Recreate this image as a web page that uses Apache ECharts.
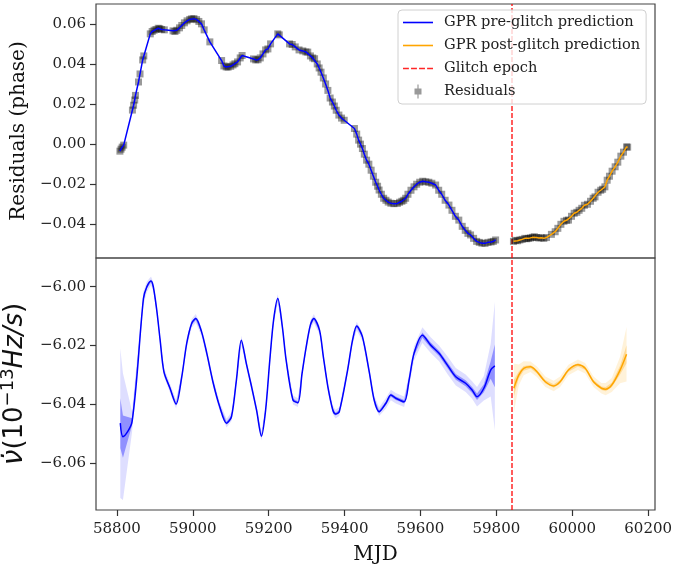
<!DOCTYPE html>
<html>
<head>
<meta charset="utf-8">
<script src="https://cdn.jsdelivr.net/npm/echarts@6/dist/echarts.min.js"></script>
<style>
  html, body { margin: 0; padding: 0; background: #fff; }
  #chart { width: 674px; height: 569px; }
</style>
</head>
<body>
<div id="chart"></div>
<script>
  // residuals (phase) before / after the glitch
  var preMjd = [58808, 58811, 58814, 58818, 58841, 58844, 58847, 58849, 58857, 58861, 58868, 58871, 58888, 58893, 58898,
    58903, 58909, 58913, 58918, 58925, 58948, 58953, 58958, 58965, 58971, 58978, 58985, 58992, 58997, 59003, 59010,
    59016, 59023, 59030, 59045, 59076, 59082, 59088, 59093, 59100, 59106, 59111, 59118, 59125, 59130, 59160, 59166,
    59172, 59178, 59185, 59192, 59198, 59205, 59224, 59228, 59255, 59262, 59270, 59280, 59290, 59298, 59303, 59310,
    59316, 59321, 59328, 59333, 59338, 59344, 59350, 59356, 59362, 59368, 59373, 59378, 59385, 59392, 59399, 59426,
    59432, 59437, 59442, 59447, 59452, 59458, 59464, 59470, 59476, 59482, 59487, 59491, 59497, 59503, 59509, 59515,
    59522, 59530, 59539, 59545, 59551, 59556, 59561, 59567, 59575, 59583, 59590, 59598, 59606, 59614, 59622, 59630,
    59640, 59648, 59656, 59665, 59675, 59683, 59692, 59701, 59710, 59718, 59725, 59732, 59740, 59748, 59755, 59762,
    59770, 59778, 59786, 59792, 59798]
  var preRes = [-0.0035, -0.0025, -0.0015, -0.0005, 0.017, 0.0194, 0.022, 0.0243, 0.031, 0.035, 0.042, 0.044, 0.055, 0.0562, 0.0568,
    0.0572, 0.0578, 0.0576, 0.0572, 0.057, 0.0565, 0.0562, 0.0568, 0.058, 0.0592, 0.0605, 0.0615, 0.0622, 0.0625, 0.0626, 0.0621,
    0.0612, 0.060, 0.057, 0.051, 0.0417, 0.039, 0.0385, 0.0384, 0.0388, 0.0395, 0.0401, 0.041, 0.043, 0.0442, 0.0425, 0.042,
    0.0421, 0.043, 0.045, 0.047, 0.0475, 0.050, 0.055, 0.0545, 0.050, 0.0497, 0.0485, 0.047, 0.0465, 0.046, 0.0459, 0.044,
    0.043, 0.0426, 0.040, 0.038, 0.0359, 0.033, 0.030, 0.0268, 0.023, 0.021, 0.019, 0.0169, 0.0145, 0.013, 0.0119, 0.0078,
    0.005, 0.002, 0.0, -0.0022, -0.005, -0.008, -0.010, -0.013, -0.016, -0.019, -0.021, -0.0229, -0.025, -0.027, -0.028, -0.0289,
    -0.0295, -0.0297, -0.0296, -0.029, -0.0285, -0.028, -0.027, -0.025, -0.023, -0.0213, -0.020, -0.019, -0.0185, -0.0188, -0.019, -0.0195,
    -0.0204, -0.023, -0.025, -0.028, -0.0304, -0.033, -0.036, -0.0379, -0.041, -0.043, -0.0445, -0.0453, -0.047, -0.0485, -0.049, -0.0494,
    -0.0495, -0.049, -0.0488, -0.0485, -0.0478]

  var postMjd = [59845, 59850, 59856, 59862, 59868, 59875, 59880, 59885, 59890, 59895, 59900, 59906, 59912, 59918, 59925,
    59932, 59945, 59955, 59962, 59970, 59978, 59985, 59990, 59998, 60005, 60012, 60018, 60025, 60032, 60040, 60048,
    60055, 60060, 60068, 60075, 60080, 60086, 60092, 60098, 60105, 60113, 60120, 60128, 60135, 60143, 60146]
  var postRes = [-0.0485, -0.048, -0.0482, -0.0478, -0.0475, -0.047, -0.0472, -0.047, -0.0468, -0.0465, -0.0462, -0.0466, -0.0468, -0.0467, -0.047,
    -0.0466, -0.045, -0.0437, -0.042, -0.040, -0.0385, -0.038, -0.0379, -0.036, -0.0345, -0.034, -0.033, -0.032, -0.0305, -0.030, -0.0285,
    -0.027, -0.0263, -0.024, -0.023, -0.0225, -0.0213, -0.018, -0.016, -0.0135, -0.0113, -0.009, -0.006, -0.004, -0.0014, -0.0015]

  // spin-down rate nu-dot (1e-13 Hz/s) and its 1-sigma
  var nuPreMjd = [58809, 58816, 58840, 58870, 58879, 58890, 58896, 58905, 58914, 58924, 58940, 58956, 58971, 58984, 58997,
    59008, 59023, 59037, 59054, 59071, 59089, 59102, 59115, 59128, 59141, 59155, 59168, 59181, 59192, 59203,
    59213, 59224, 59236, 59246, 59264, 59277, 59288, 59299, 59310, 59319, 59334, 59344, 59356, 59369, 59376,
    59386, 59408, 59421, 59432, 59447, 59465, 59478, 59491, 59509, 59522, 59535, 59557, 59570, 59583, 59605,
    59627, 59649, 59671, 59693, 59719, 59736, 59749, 59767, 59785, 59796]
  var nuPre = [-6.0465, -6.0511, -6.046, -6.004, -6.000, -5.998, -6.000, -6.0079, -6.0182, -6.029, -6.0346, -6.040, -6.0307, -6.0193, -6.0125,
    -6.0108, -6.0153, -6.0227, -6.0329, -6.0409, -6.0465, -6.0443, -6.0318, -6.0182, -6.0261, -6.0341, -6.042, -6.0509, -6.042, -6.025,
    -6.0113, -6.004, -6.0136, -6.025, -6.0386, -6.0395, -6.0295, -6.0204, -6.013, -6.0108, -6.0148, -6.0238, -6.0341, -6.042, -6.0434,
    -6.0426, -6.0284, -6.0182, -6.0134, -6.017, -6.029, -6.0386, -6.0426, -6.0397, -6.0369, -6.038, -6.0392, -6.0318, -6.0227, -6.0165,
    -6.0199, -6.0227, -6.0267, -6.0307, -6.0329, -6.0352, -6.0375, -6.0346, -6.0284, -6.027]
  var nuPreSig = [0.0085, 0.0072, 0.0012, 0.0008, 0.0006, 0.0005, 0.0005, 0.0005, 0.0005, 0.0005, 0.0005, 0.0005, 0.0005, 0.0005, 0.0005,
    0.0005, 0.0005, 0.0005, 0.0005, 0.0005, 0.0005, 0.0005, 0.0005, 0.0005, 0.0005, 0.0005, 0.0005, 0.0005, 0.0005, 0.0005,
    0.0005, 0.0005, 0.0005, 0.0005, 0.0005, 0.0005, 0.0005, 0.0005, 0.0005, 0.0005, 0.0005, 0.0005, 0.0005, 0.0005, 0.0005,
    0.0005, 0.0005, 0.0005, 0.0005, 0.0005, 0.0005, 0.0005, 0.0005, 0.0006, 0.0006, 0.0006, 0.0006, 0.0007, 0.0008, 0.0009,
    0.0009, 0.0009, 0.001, 0.001, 0.001, 0.001, 0.0011, 0.0014, 0.003, 0.0073]

  var nuPostMjd = [59846, 59859, 59872, 59890, 59907, 59929, 59951, 59968, 59990, 60015, 60034, 60056, 60077, 60088, 60104, 60126, 60143]
  var nuPost = [-6.0346, -6.0301, -6.0278, -6.0273, -6.029, -6.0324, -6.0338, -6.0324, -6.0284, -6.0266, -6.0278, -6.0324, -6.0346, -6.0349, -6.0335, -6.0284, -6.023]
  var nuPostSig = [0.0028, 0.0012, 0.0008, 0.0006, 0.0006, 0.0006, 0.0006, 0.0006, 0.0006, 0.0006, 0.0006, 0.0006, 0.0006, 0.0007, 0.0008, 0.0015, 0.0031]

  var glitchMjd = 59840

  var xTicks = [58800, 59000, 59200, 59400, 59600, 59800, 60000, 60200]
  var resTicks = [-0.04, -0.02, 0.00, 0.02, 0.04, 0.06]
  var nuTicks = [-6.06, -6.04, -6.02, -6.00]

  var serif = 'DejaVu Serif'
  var legendNames = ['GPR pre-glitch prediction', 'GPR post-glitch prediction', 'Glitch epoch', 'Residuals']

  var RED = 'rgba(255,0,0,0.85)'
  var DOT = 'rgba(0,0,0,0.5)'

  function pairs(xs, ys) {
    return xs.map(function(x, i) { return [x, ys[i]] })
  }

  function fmt(v) {
    var s = Math.abs(v).toFixed(2)
    return (v < -1e-9 ? '\u2212' : '') + s
  }

  // filled confidence band (mid +- k*sig) drawn as one polygon
  function band(xs, mid, sig, k, color) {
    return {
      type: 'custom',
      xAxisIndex: 1,
      yAxisIndex: 1,
      silent: true,
      z: 1,
      data: pairs(xs, mid),
      encode: { x: 0, y: 1 },
      renderItem: function(params, api) {
        if (params.dataIndex !== 0) return
        var pts = []
        var i
        for (i = 0; i < xs.length; i++) pts.push(api.coord([xs[i], mid[i] + k * sig[i]]))
        for (i = xs.length - 1; i >= 0; i--) pts.push(api.coord([xs[i], mid[i] - k * sig[i]]))
        return { type: 'polygon', shape: { points: pts }, style: { fill: color } }
      }
    }
  }

  function glitch(idx) {
    return {
      name: 'Glitch epoch',
      type: 'line',
      xAxisIndex: idx,
      yAxisIndex: idx,
      data: [],
      symbol: 'none',
      itemStyle: { color: RED },
      lineStyle: { color: RED, width: 1.5, type: [5, 2] },
      markLine: {
        silent: true,
        z: 2,
        symbol: ['none', 'none'],
        label: { show: false },
        lineStyle: { color: RED, width: 1.5, type: [5, 2] },
        data: [{ xAxis: glitchMjd }]
      },
      z: 2
    }
  }

  var xBase = {
    type: 'value',
    min: 58745,
    max: 60218,
    splitLine: { show: false },
    axisLine: { show: false }
  }

  var lineIcon = 'path://M0,0 H30 V1.6 H0 Z'
  var dashIcon = 'path://M0,0 H5.5 V1.6 H0 Z M7.5,0 H13 V1.6 H7.5 Z M15,0 H20.5 V1.6 H15 Z M22.5,0 H28 V1.6 H22.5 Z'
  var dotIcon = 'path://M6.4,0 H7.6 V4 H10.5 V10 H7.6 V14 H6.4 V10 H3.5 V4 H6.4 Z'

  var chart = echarts.init(document.getElementById('chart'))
  chart.setOption({
    animation: false,
    backgroundColor: '#fff',
    grid: [
      { left: 96, right: 19, top: 4, height: 254, show: true, borderColor: '#444', borderWidth: 1.2, outerBoundsMode: 'none' },
      { left: 96, right: 19, top: 258, height: 252, show: true, borderColor: '#444', borderWidth: 1.2, outerBoundsMode: 'none' }
    ],
    legend: {
      data: [
        { name: legendNames[0], icon: lineIcon },
        { name: legendNames[1], icon: lineIcon },
        { name: legendNames[2], icon: dashIcon },
        { name: legendNames[3], icon: dotIcon }
      ],
      orient: 'vertical',
      left: 398,
      top: 10,
      z: 10,
      itemWidth: 30,
      itemHeight: 14,
      itemGap: 8,
      padding: [5, 6, 5, 5],
      selectedMode: false,
      backgroundColor: 'rgba(255,255,255,0.8)',
      borderColor: '#d0d0d0',
      borderWidth: 1,
      borderRadius: 4,
      textStyle: { fontFamily: serif, fontSize: 14.6, color: '#222', padding: [0, 0, 0, 6] }
    },
    xAxis: [
      Object.assign({ gridIndex: 0, axisLabel: { show: false }, axisTick: { show: false } }, xBase),
      Object.assign({
        gridIndex: 1,
        name: 'MJD',
        nameLocation: 'middle',
        nameGap: 35,
        nameTextStyle: { fontFamily: serif, fontSize: 20, color: '#111' },
        axisTick: { customValues: xTicks, length: 6, lineStyle: { color: '#333', width: 1.2 } },
        axisLabel: {
          customValues: xTicks, fontFamily: serif, fontSize: 15, color: '#222', margin: 12,
          formatter: function(v) { return String(v) }
        }
      }, xBase)
    ],
    yAxis: [
      {
        type: 'value',
        gridIndex: 0,
        min: -0.0568,
        max: 0.0699,
        name: 'Residuals (phase)',
        nameLocation: 'middle',
        nameGap: 66,
        nameTextStyle: { fontFamily: serif, fontSize: 20, color: '#111' },
        splitLine: { show: false },
        axisLine: { show: false },
        axisTick: { customValues: resTicks, length: 6, lineStyle: { color: '#333', width: 1.2 } },
        axisLabel: { customValues: resTicks, fontFamily: serif, fontSize: 15, color: '#222', margin: 10, formatter: fmt }
      },
      {
        type: 'value',
        gridIndex: 1,
        min: -6.0761,
        max: -5.9902,
        name: '{n|\u03bd\u0307}{u|(10}{s|\u221213}{i|Hz/s}{u|)}',
        nameLocation: 'middle',
        nameGap: 54,
        nameTextStyle: {
          color: '#111',
          rich: {
            n: { fontFamily: 'DejaVu Sans', fontStyle: 'italic', fontSize: 28, color: '#111' },
            u: { fontFamily: 'DejaVu Sans', fontSize: 26, color: '#111' },
            s: { fontFamily: 'DejaVu Sans', fontSize: 18, color: '#111', padding: [0, 0, 13, 0] },
            i: { fontFamily: 'DejaVu Sans', fontStyle: 'italic', fontSize: 26, color: '#111' }
          }
        },
        splitLine: { show: false },
        axisLine: { show: false },
        axisTick: { customValues: nuTicks, length: 6, lineStyle: { color: '#333', width: 1.2 } },
        axisLabel: { customValues: nuTicks, fontFamily: serif, fontSize: 15, color: '#222', margin: 10, formatter: fmt }
      }
    ],
    series: [
      band(nuPreMjd, nuPre, nuPreSig, 3, 'rgba(0,0,255,0.13)'),
      band(nuPreMjd, nuPre, nuPreSig, 1, 'rgba(0,0,255,0.35)'),
      band(nuPostMjd, nuPost, nuPostSig, 3, 'rgba(255,165,0,0.15)'),
      band(nuPostMjd, nuPost, nuPostSig, 1, 'rgba(255,165,0,0.3)'),
      {
        name: 'Residuals',
        type: 'scatter',
        xAxisIndex: 0,
        yAxisIndex: 0,
        data: pairs(preMjd, preRes),
        symbol: 'rect',
        symbolSize: 7,
        itemStyle: { color: DOT },
        z: 2
      },
      {
        name: 'Residuals',
        type: 'scatter',
        xAxisIndex: 0,
        yAxisIndex: 0,
        data: pairs(postMjd, postRes),
        symbol: 'rect',
        symbolSize: 7,
        itemStyle: { color: DOT },
        z: 2
      },
      {
        name: 'GPR pre-glitch prediction',
        type: 'line',
        xAxisIndex: 0,
        yAxisIndex: 0,
        data: pairs(preMjd, preRes),
        symbol: 'none',
        lineStyle: { color: '#0000ff', width: 1.5 },
        itemStyle: { color: '#0000ff' },
        z: 3
      },
      {
        name: 'GPR post-glitch prediction',
        type: 'line',
        xAxisIndex: 0,
        yAxisIndex: 0,
        data: pairs(postMjd, postRes),
        symbol: 'none',
        lineStyle: { color: '#ffa500', width: 1.5 },
        itemStyle: { color: '#ffa500' },
        z: 3
      },
      {
        name: 'GPR pre-glitch prediction',
        type: 'line',
        xAxisIndex: 1,
        yAxisIndex: 1,
        data: pairs(nuPreMjd, nuPre),
        symbol: 'none',
        smooth: 0.3,
        lineStyle: { color: '#0000ff', width: 1.5 },
        itemStyle: { color: '#0000ff' },
        z: 3
      },
      {
        name: 'GPR post-glitch prediction',
        type: 'line',
        xAxisIndex: 1,
        yAxisIndex: 1,
        data: pairs(nuPostMjd, nuPost),
        symbol: 'none',
        smooth: 0.3,
        lineStyle: { color: '#ffa500', width: 1.5 },
        itemStyle: { color: '#ffa500' },
        z: 3
      },
      glitch(0),
      glitch(1)
    ]
  })
</script>
</body>
</html>
